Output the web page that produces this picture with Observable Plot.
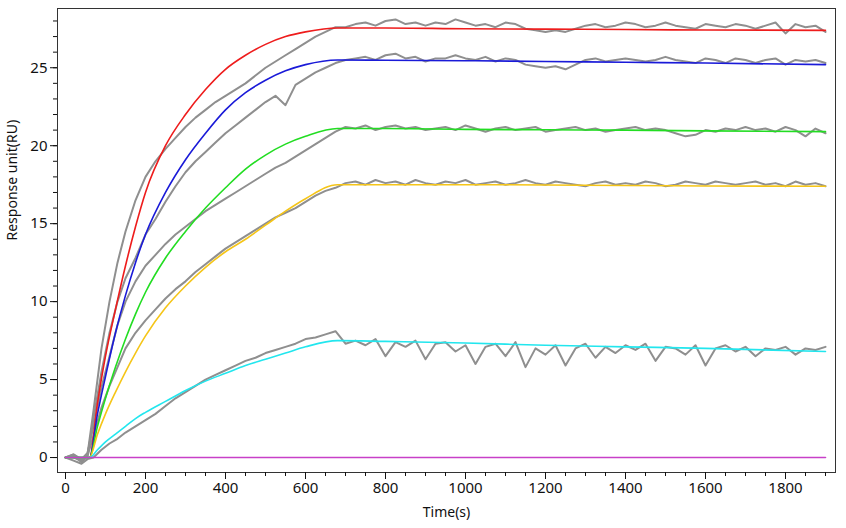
<!DOCTYPE html>
<html><head><meta charset="utf-8">
<script src="https://cdn.jsdelivr.net/npm/d3@7"></script>
<script src="https://cdn.jsdelivr.net/npm/@observablehq/plot@0.6"></script>
<style>body{margin:0;background:#fff}svg{font-family:"Noto Sans",sans-serif}</style>
</head><body><div id="c"></div>
<script>
const fitT = [0,60,80,100,125,150,175,200,250,300,350,400,450,500,550,600,680,800,1000,1200,1400,1600,1900];
const fitRed    = [0,0,3.5,6.5,9.5,12.3,14.8,17,20,22,23.6,24.9,25.8,26.5,27,27.3,27.55,27.55,27.5,27.48,27.45,27.42,27.4];
const fitBlue   = [0,0,2.8,5.2,8,10.4,12.5,14.3,17,19.1,20.8,22.3,23.4,24.2,24.8,25.2,25.5,25.48,25.45,25.4,25.35,25.3,25.2];
const fitGreen  = [0,0,2,3.8,5.8,7.6,9.2,10.6,12.8,14.5,16,17.3,18.5,19.4,20.1,20.6,21.1,21.1,21.05,21.02,21,20.95,20.9];
const fitYellow = [0,0,1.5,2.8,4.2,5.5,6.7,7.8,9.6,11,12.2,13.2,14,14.9,15.8,16.6,17.5,17.5,17.5,17.48,17.45,17.42,17.4];
const fitCyan   = [0,0,0.5,1,1.5,2,2.5,2.9,3.6,4.3,4.9,5.4,5.9,6.3,6.7,7.1,7.5,7.45,7.35,7.2,7.1,7,6.8];
const fitMagenta= [0,0,0,0,0,0,0,0,0,0,0,0,0,0,0,0,0,0,0,0,0,0,0];

const earlyT = [0,20,40,55,70,90,110,130,150,175,200,225,250,275,300,325,350,375,400,425,450,475,500,525,550,575,600,625,650,675];
const lateT = d3.range(700,1901,25);
const grayRed = [0,0.2,-0.2,0.2,3,7,10,12.5,14.5,16.5,18,19,19.8,20.5,21.2,21.8,22.3,22.8,23.2,23.6,24,24.5,25,25.4,25.8,26.2,26.6,27,27.3,27.6,
27.6,27.8,27.9,27.7,28.0,28.1,27.8,27.9,27.7,27.9,27.8,28.1,27.9,27.7,27.8,27.6,27.9,27.8,27.5,27.4,27.3,27.4,27.3,27.5,27.7,27.8,27.6,27.7,27.9,27.8,27.6,27.7,27.9,27.7,27.6,27.5,27.8,27.7,27.6,27.8,27.7,27.5,27.7,27.9,27.2,27.8,27.6,27.7,27.3];
const grayBlue = [0,0.1,-0.3,0.1,2.5,5.5,8,10,11.5,12.8,14.3,15.3,16.4,17.4,18.3,19,19.6,20.2,20.8,21.3,21.8,22.3,22.8,23.2,22.6,23.9,24.3,24.7,25,25.3,
25.5,25.6,25.7,25.5,25.8,25.9,25.6,25.7,25.4,25.6,25.6,25.8,25.6,25.5,25.7,25.4,25.6,25.5,25.2,25.1,25.0,25.1,24.9,25.2,25.5,25.6,25.4,25.5,25.6,25.5,25.4,25.5,25.7,25.5,25.4,25.3,25.6,25.5,25.3,25.6,25.5,25.3,25.5,25.6,25.2,25.5,25.4,25.5,25.3];
const grayGreen = [0,0.2,-0.1,0.3,2,4.5,6.5,8.5,10,11.3,12.3,13,13.7,14.3,14.8,15.3,15.8,16.2,16.6,17,17.4,17.8,18.2,18.6,18.9,19.3,19.7,20.1,20.5,20.9,
21.2,21.1,21.3,21.0,21.2,21.3,21.1,21.2,21.0,21.1,21.2,21.0,21.3,21.1,20.9,21.1,21.2,21.0,21.1,21.2,20.9,21.0,21.1,21.2,21.0,21.1,20.9,21.0,21.1,21.2,21.0,21.1,21.0,20.8,20.6,20.7,21.0,20.9,21.1,21.0,21.2,21.0,21.1,20.9,21.2,21.0,20.6,21.1,20.8];
const grayYellow = [0,0,-0.2,0.1,1.4,3.2,4.6,5.8,7,8,8.8,9.5,10.2,10.8,11.3,11.9,12.4,12.9,13.4,13.8,14.2,14.6,15,15.4,15.7,16,16.4,16.8,17.1,17.3,
17.6,17.7,17.5,17.8,17.6,17.7,17.5,17.8,17.6,17.5,17.7,17.6,17.8,17.5,17.6,17.7,17.5,17.6,17.8,17.6,17.5,17.7,17.6,17.5,17.4,17.6,17.7,17.5,17.6,17.5,17.7,17.6,17.4,17.5,17.7,17.6,17.5,17.7,17.6,17.5,17.6,17.7,17.5,17.6,17.4,17.7,17.5,17.6,17.4];
const grayCyan = [0,-0.2,-0.4,-0.1,0,0.5,0.9,1.2,1.6,2,2.4,2.8,3.3,3.8,4.2,4.6,5,5.3,5.6,5.9,6.2,6.4,6.7,6.9,7.1,7.3,7.6,7.7,7.9,8.1,
7.3,7.5,7.2,7.6,6.5,7.4,7.1,7.5,6.3,7.3,7.4,6.8,7.2,6.0,7.1,7.3,6.5,7.4,5.8,7.0,6.6,7.2,5.9,7.0,7.3,6.4,7.1,6.7,7.2,6.9,7.3,6.2,7.1,7.0,6.6,7.2,5.9,7.0,7.2,6.8,7.1,6.5,7.0,6.9,7.1,6.6,7.0,6.9,7.1];

const xMajor = d3.range(0,1801,200), xMinor = d3.range(0,1901,50);
const yMajor = [0,5,10,15,20,25], yMinor = d3.range(0,29,1);

const grayT = earlyT.concat(lateT);
const gray = [];
[grayRed,grayBlue,grayGreen,grayYellow,grayCyan].forEach((s,k)=>s.forEach((v,i)=>{ if(i<grayT.length) gray.push({t:grayT[i],v,k}); }));
const fits = [];
[[fitRed,"#ee1c1c"],[fitBlue,"#1a1ad8"],[fitGreen,"#22dd22"],[fitYellow,"#f5c518"],[fitCyan,"#22e6ee"],[fitMagenta,"#c840c8"]]
 .forEach(([s,c])=>s.forEach((v,i)=>fits.push({t:fitT[i],v,c})));

const plot = Plot.plot({
  width:846,height:528,marginLeft:57,marginRight:11,marginTop:8,marginBottom:56,
  x:{domain:[-20,1925], label:null}, y:{domain:[-0.96,28.8], label:null},
  style:{fontSize:"15px",color:"#111"},
  marks:[
    Plot.line(gray,{x:"t",y:"v",z:"k",stroke:"#8f8f8f",strokeWidth:2}),
    Plot.line(fits,{x:"t",y:"v",z:"c",stroke:"c",strokeWidth:1.6,curve:"monotone-x"}),
    Plot.frame({stroke:"#333"}),
    Plot.axisX({ticks:xMinor,tickSize:4,text:null,label:null}),
    Plot.axisX({ticks:xMajor,tickSize:7,tickFormat:d=>String(d),label:null,fontSize:15}),
    Plot.axisY({ticks:yMinor,tickSize:4,text:null,label:null}),
    Plot.axisY({ticks:yMajor,tickSize:7,label:null,fontSize:15}),
    Plot.text(["Time(s)"],{frameAnchor:"bottom",dy:44,fontSize:14}),
    Plot.text(["Response unit(RU)"],{frameAnchor:"left",dx:-45,rotate:-90,fontSize:14,fontStretch:"condensed"})
  ]
});
document.getElementById("c").appendChild(plot);
</script></body></html>
